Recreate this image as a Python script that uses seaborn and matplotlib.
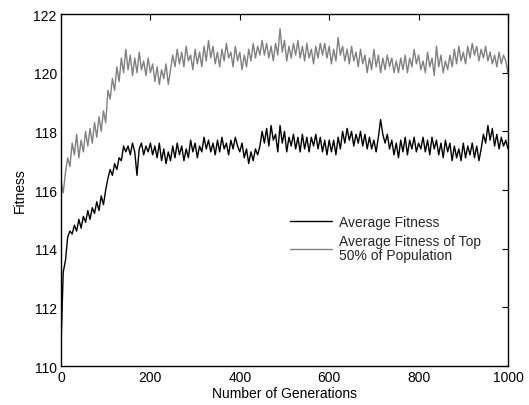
import numpy as np
import pandas as pd
import matplotlib
matplotlib.use("Agg")
import matplotlib.pyplot as plt
import seaborn as sns

generations = list(range(0, 1001, 5))

avg_fitness = [
    110.7, 113.2, 113.6, 114.4, 114.6, 114.5, 114.8, 114.6, 115.0, 114.7,
    115.1, 114.9, 115.3, 115.0, 115.4, 115.2, 115.6, 115.3, 115.8, 115.5,
    116.0, 116.4, 116.7, 116.5, 116.9, 116.7, 117.1, 117.0, 117.5, 117.3,
    117.5, 117.2, 117.6, 117.3, 116.5, 117.4, 117.6, 117.2, 117.5, 117.3,
    117.6, 117.2, 117.5, 117.1, 117.6, 117.0, 117.4, 116.9, 117.3, 117.0,
    117.5, 117.1, 117.6, 117.2, 117.5, 117.0, 117.4, 117.1, 117.7, 117.3,
    117.6, 117.1, 117.5, 117.3, 117.8, 117.4, 117.7, 117.3, 117.6, 117.2,
    117.7, 117.3, 117.8, 117.4, 117.6, 117.2, 117.7, 117.4, 117.8, 117.5,
    117.3, 117.6, 117.1, 117.4, 116.9, 117.3, 117.0, 117.4, 117.2, 117.5,
    118.0, 117.6, 118.1, 117.5, 118.2, 117.7, 117.9, 117.3, 118.2, 117.6,
    118.0, 117.3, 117.8, 117.5, 117.9, 117.4, 117.8, 117.3, 117.9, 117.4,
    117.8, 117.3, 117.8, 117.5, 117.9, 117.4, 117.8, 117.3, 117.7, 117.2,
    117.7, 117.3, 117.7, 117.2, 117.8, 117.4, 118.0, 117.6, 118.1, 117.7,
    118.0, 117.5, 117.9, 117.6, 118.0, 117.5, 117.9, 117.4, 117.8, 117.4,
    117.7, 117.3, 117.8, 118.4, 117.9, 117.6, 117.9, 117.4, 117.7, 117.2,
    117.6, 117.1, 117.7, 117.3, 117.8, 117.2, 117.7, 117.4, 117.8, 117.3,
    117.6, 117.4, 117.8, 117.3, 117.7, 117.2, 117.8, 117.4, 117.7, 117.2,
    117.6, 117.1, 117.7, 117.3, 117.6, 117.0, 117.5, 117.1, 117.4, 117.0,
    117.6, 117.1, 117.5, 117.2, 117.6, 117.1, 117.5, 117.0, 117.4, 117.9,
    117.6, 118.2, 117.7, 118.1, 117.5, 117.9, 117.4, 117.8, 117.5, 117.7,
    117.4,
]

top50_fitness = [
    116.3, 115.9, 116.6, 117.1, 116.8, 117.6, 117.2, 117.9, 117.1, 117.7,
    117.3, 118.0, 117.5, 118.1, 117.6, 118.3, 117.8, 118.5, 118.0, 118.7,
    118.3, 119.4, 119.1, 119.8, 119.4, 120.2, 119.7, 120.5, 120.0, 120.8,
    120.1, 120.6, 119.9, 120.5, 120.0, 120.7, 120.1, 120.4, 119.9, 120.5,
    120.0, 120.3, 119.7, 120.2, 119.6, 120.1, 119.8, 120.3, 119.6, 120.1,
    120.6, 120.2, 120.8, 120.3, 120.7, 120.2, 120.9, 120.4, 120.6, 120.1,
    120.8, 120.3, 120.7, 120.2, 120.9, 120.4, 121.1, 120.5, 120.9, 120.3,
    120.7, 120.2, 120.8, 120.4, 121.0, 120.5, 120.7, 120.2, 120.9, 120.4,
    120.7, 120.1, 120.6, 120.2, 120.8, 120.4, 121.0, 120.5, 120.9, 120.6,
    121.1, 120.6, 121.0, 120.5, 120.9, 120.4, 121.0, 120.6, 121.5, 120.7,
    121.1, 120.4, 120.9, 120.5, 121.0, 120.6, 121.1, 120.5, 120.9, 120.4,
    121.0, 120.5, 120.8, 120.3, 120.9, 120.5, 121.0, 120.6, 121.0, 120.5,
    120.9, 120.3, 120.8, 120.4, 121.2, 120.6, 120.9, 120.4, 120.8, 120.3,
    120.9, 120.4, 120.7, 120.2, 120.8, 120.3, 120.6, 120.0, 120.5, 120.1,
    120.8, 120.2, 120.6, 120.0, 120.5, 120.1, 120.6, 120.2, 120.5, 120.0,
    120.4, 120.0, 120.5, 120.1, 120.6, 120.0, 120.5, 120.2, 120.8, 120.3,
    120.6, 120.1, 120.4, 120.0, 120.7, 120.2, 120.5, 119.9, 120.9, 120.2,
    120.6, 120.0, 120.4, 120.1, 120.6, 120.2, 120.8, 120.3, 120.9, 120.4,
    120.7, 120.3, 120.9, 120.5, 121.0, 120.6, 120.9, 120.4, 120.8, 120.5,
    120.9, 120.4, 120.7, 120.3, 120.6, 120.2, 120.7, 120.3, 120.6, 120.4,
    120.0,
]

series_labels = ["Average Fitness", "Average Fitness of Top\n50% of Population"]
series_colors = ["#000000", "#808080"]
x_ticks = [0, 200, 400, 600, 800, 1000]
y_ticks = [110, 112, 114, 116, 118, 120, 122]

df = pd.DataFrame({
    "Generation": generations * 2,
    "Fitness": avg_fitness + top50_fitness,
    "Series": [series_labels[0]] * len(generations) + [series_labels[1]] * len(generations),
})

sns.set_theme(style="white")
plt.rcParams["font.family"] = ["Liberation Sans", "DejaVu Sans"]

fig = plt.figure(figsize=(5.29, 4.06), dpi=100)
ax = fig.add_axes([0.1153, 0.096, 0.845, 0.867])

sns.lineplot(data=df, x="Generation", y="Fitness", hue="Series",
             palette=series_colors, hue_order=series_labels,
             linewidth=1.0, ax=ax, legend=True)

ax.set_xlim(0, 1000)
ax.set_ylim(110, 122)
ax.set_xticks(x_ticks)
ax.set_yticks(y_ticks)
ax.set_xlabel("Number of Generations", fontsize=10, labelpad=1, color="black")
ax.set_ylabel("Fitness", fontsize=10, labelpad=5, color="black")
ax.tick_params(direction="in", top=True, right=True, length=4, width=0.8,
               labelsize=10, colors="black", pad=3)
for s in ax.spines.values():
    s.set_color("black")
    s.set_linewidth(1.0)

leg = ax.legend(loc="upper left", bbox_to_anchor=(0.5, 0.445), frameon=False,
                fontsize=10, handlelength=3.0, handletextpad=0.5,
                labelspacing=0.35, borderaxespad=0)
for t in leg.get_texts():
    t.set_linespacing(1.05)

fig.savefig("out.png", dpi=100)
